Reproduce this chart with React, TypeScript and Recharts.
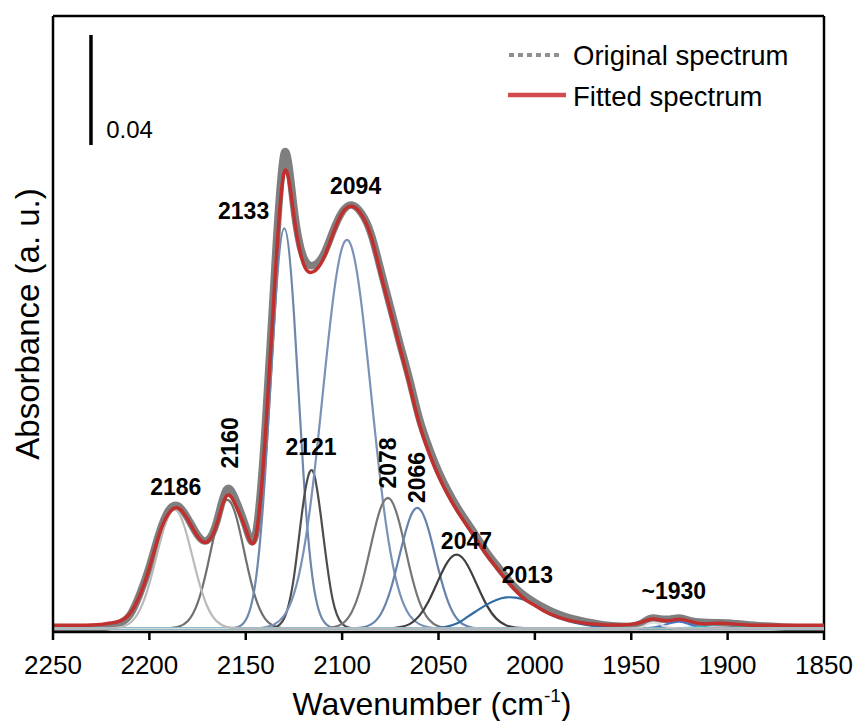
import React from 'react';
import { LineChart, Line, XAxis, YAxis, ReferenceLine, ReferenceDot } from 'recharts';

const FONT = '"Liberation Sans", Arial, Helvetica, sans-serif';

// sampling grid of the spectrum, cm-1 (2250 -> 1850, 5 cm-1 steps)
const GRID_START = 2250;
const GRID_STEP = 5;
const wavenumbers = Array.from({ length: 81 }, (_, i) => GRID_START - i * GRID_STEP);

const xTicks = [2250, 2200, 2150, 2100, 2050, 2000, 1950, 1900, 1850];

// absorbance, one value per grid point
const originalSpectrum = [
  0, 0, 0, 0, 0, 0.0003, 0.0008, 0.002, 0.005, 0.0125, // 2250-2205
  0.0225, 0.0345, 0.043, 0.0445, 0.04, 0.034, 0.032, 0.039, 0.0505, 0.0465, // 2200-2155
  0.037, 0.034, 0.072, 0.13, 0.173, 0.153, 0.135, 0.132, 0.1355, 0.144, // 2150-2105
  0.1515, 0.154, 0.151, 0.1435, 0.1305, 0.117, 0.1035, 0.0905, 0.0765, 0.066, // 2100-2055
  0.0572, 0.05, 0.0438, 0.0385, 0.0332, 0.0278, 0.0232, 0.0188, 0.0148, 0.0118, // 2050-2005
  0.0095, 0.0075, 0.0058, 0.0045, 0.0035, 0.0027, 0.002, 0.0014, 0.001, 0.0008, // 2000-1955
  0.0008, 0.0018, 0.0037, 0.0035, 0.0034, 0.0038, 0.003, 0.0024, 0.0022, 0.0021, // 1950-1905
  0.002, 0.0017, 0.0014, 0.0011, 0.0009, 0.0007, 0.0005, 0.0003, 0.0002, 0.0001, // 1900-1855
  0, // 1850
];

const fittedSpectrum = [
  0.0012, 0.0012, 0.0012, 0.0012, 0.0013, 0.0015, 0.002, 0.0028, 0.0055, 0.012, // 2250-2205
  0.022, 0.034, 0.0418, 0.0438, 0.0395, 0.0335, 0.0315, 0.038, 0.0482, 0.0445, // 2200-2155
  0.036, 0.0328, 0.068, 0.125, 0.166, 0.15, 0.1325, 0.1297, 0.134, 0.143, // 2150-2105
  0.151, 0.1535, 0.1505, 0.1425, 0.129, 0.1155, 0.102, 0.0885, 0.0745, 0.064, // 2100-2055
  0.0555, 0.0485, 0.0425, 0.0372, 0.032, 0.0268, 0.0222, 0.0178, 0.0138, 0.0105, // 2050-2005
  0.0084, 0.0063, 0.0047, 0.0035, 0.0026, 0.002, 0.0016, 0.0014, 0.0013, 0.0013, // 2000-1955
  0.0015, 0.0022, 0.0034, 0.0031, 0.0029, 0.0034, 0.0027, 0.0018, 0.0017, 0.0019, // 1950-1905
  0.0018, 0.0015, 0.0013, 0.0012, 0.0012, 0.0012, 0.0012, 0.0012, 0.0012, 0.0012, // 1900-1855
  0.0012, // 1850
];

// fitted bands: values start at the given wavenumber and go down in 5 cm-1 steps
const band2186 = [0.0001, 0.0005, 0.002, 0.0067, 0.0163, 0.0299, 0.0411, 0.0423, 0.0326, 0.0188, 0.0081, 0.0026, 0.0006, 0.0001, 0];
const band2160 = [0.0001, 0.0006, 0.0027, 0.0092, 0.0222, 0.0381, 0.0467, 0.0408, 0.0254, 0.0113, 0.0036, 0.0008, 0.0001, 0];
const band2133 = [0, 0.0003, 0.0031, 0.0166, 0.0555, 0.1144, 0.1455, 0.1144, 0.0555, 0.0166, 0.0031, 0.0003, 0];
const band2121 = [0, 0.0004, 0.0038, 0.0188, 0.0463, 0.057, 0.0351, 0.0108, 0.0017, 0.0001, 0];
const band2094 = [0, 0.0004, 0.0016, 0.0048, 0.0126, 0.028, 0.053, 0.0857, 0.118, 0.1385, 0.1385, 0.118, 0.0857, 0.053, 0.028, 0.0126, 0.0048, 0.0016, 0.0004, 0];
const band2078 = [0, 0.0004, 0.0017, 0.006, 0.0157, 0.0304, 0.0438, 0.047, 0.0376, 0.0223, 0.0099, 0.0033, 0.0008, 0.0001, 0];
const band2066 = [0, 0.0003, 0.0015, 0.0052, 0.0138, 0.0272, 0.0399, 0.0436, 0.0355, 0.0215, 0.0097, 0.0032, 0.0008, 0.0001, 0];
const band2047 = [0, 0.0001, 0.0005, 0.0016, 0.0046, 0.0101, 0.0177, 0.0245, 0.0268, 0.0231, 0.0158, 0.0085, 0.0036, 0.0012, 0.0003, 0.0001, 0];
const band2013 = [0, 0.0002, 0.0008, 0.002, 0.0042, 0.0065, 0.0087, 0.0104, 0.0113, 0.0112, 0.0103, 0.0084, 0.0062, 0.0045, 0.0032, 0.0022, 0.0015, 0.001, 0.0006, 0.0003, 0.0001, 0];
const band1938 = [0, 0.0004, 0.002, 0.0016, 0.0003, 0];
const band1926 = [0, 0.0002, 0.0009, 0.0019, 0.0025, 0.0016, 0.0006, 0.0001, 0];
const band1903 = [0, 0.0001, 0.0002, 0.0005, 0.0011, 0.0016, 0.0016, 0.001, 0.0004, 0.0001, 0];

const bands = [
  { key: 'b2160', start: 2190, values: band2160, color: '#707070' },
  { key: 'b2133', start: 2160, values: band2133, color: '#6e87ab' },
  { key: 'b2121', start: 2140, values: band2121, color: '#4d4d4d' },
  { key: 'b2094', start: 2145, values: band2094, color: '#7b92b8' },
  { key: 'b2078', start: 2110, values: band2078, color: '#767676' },
  { key: 'b2066', start: 2095, values: band2066, color: '#6783ad' },
  { key: 'b2047', start: 2080, values: band2047, color: '#3f3f3f' },
  { key: 'b2013', start: 2055, values: band2013, color: '#2f6ca3' },
  { key: 'b1926', start: 1945, values: band1926, color: '#4a78c8' },
  { key: 'b1903', start: 1930, values: band1903, color: '#33bcc8' },
  { key: 'b1938', start: 1950, values: band1938, color: '#dcdcdc' },
  { key: 'b2186', start: 2220, values: band2186, color: '#bababa' },
];

// peak annotations (text, wavenumber, absorbance of the text baseline, vertical?)
const peakLabels = ['2186', '2160', '2133', '2121', '2094', '2078', '2066', '2047', '2013', '~1930'];
const peakLabelX = [2186.3, 2153.9, 2151.1, 2116.1, 2093.0, 2071.8, 2057.0, 2035.5, 2003.9, 1927.9];
const peakLabelY = [0.0486, 0.0675, 0.1489, 0.0631, 0.158, 0.0602, 0.0549, 0.0289, 0.0166, 0.0107];
const peakLabelVertical = [false, true, false, false, false, true, true, false, false, false];

const Y_MIN = -0.00127;
const Y_MAX = 0.2227;

const chartData = wavenumbers.map((wn, i) => {
  const row: Record<string, number> = {
    wn,
    original: originalSpectrum[i],
    fitted: fittedSpectrum[i],
  };
  bands.forEach((b) => {
    const idx = Math.round((b.start - wn) / GRID_STEP);
    row[b.key] = idx >= 0 && idx < b.values.length ? b.values[idx] : 0;
  });
  return row;
});

function PeakText({ cx, cy, text, vertical }: { cx?: number; cy?: number; text: string; vertical: boolean }) {
  if (cx == null || cy == null) return null;
  return (
    <text
      x={cx}
      y={cy}
      textAnchor="middle"
      fontFamily={FONT}
      fontSize={23}
      fontWeight="bold"
      fill="#000"
      transform={vertical ? `rotate(-90 ${cx} ${cy})` : undefined}
    >
      {text}
    </text>
  );
}

export default function App() {
  return (
    <div style={{ position: 'absolute', left: 0, top: 0, width: 859, height: 721, background: '#fff' }}>
      <LineChart
        width={859}
        height={721}
        data={chartData}
        margin={{ top: 16, right: 35, left: 8, bottom: 29 }}
      >
        <XAxis
          dataKey="wn"
          type="number"
          domain={[1850, 2250]}
          reversed
          ticks={xTicks}
          allowDataOverflow
          height={60}
          tickSize={8}
          tickMargin={16}
          axisLine={{ stroke: '#000', strokeWidth: 2.5 }}
          tickLine={{ stroke: '#000', strokeWidth: 2.5 }}
          tick={{ fontSize: 26, fill: '#000', fontFamily: FONT }}
          label={{
            content: () => (
              <text x={432} y={715} textAnchor="middle" fontFamily={FONT} fontSize={32} fill="#000">
                <tspan>Wavenumber (cm</tspan>
                <tspan dy={-13} fontSize={19}>-1</tspan>
                <tspan dy={13}>)</tspan>
              </text>
            ),
          }}
        />
        <YAxis
          type="number"
          domain={[Y_MIN, Y_MAX]}
          allowDataOverflow
          width={45}
          tick={false}
          tickLine={false}
          axisLine={{ stroke: '#000', strokeWidth: 2.5 }}
          label={{
            content: () => (
              <text
                x={39}
                y={324}
                textAnchor="middle"
                fontFamily={FONT}
                fontSize={33}
                fill="#000"
                transform="rotate(-90 39 324)"
              >
                Absorbance (a. u.)
              </text>
            ),
          }}
        />
        {/* plot frame */}
        <ReferenceLine y={Y_MAX} stroke="#000" strokeWidth={2.5} />
        <ReferenceLine x={1850} stroke="#000" strokeWidth={2.5} />

        <Line
          dataKey="original"
          type="natural"
          stroke="#7f7f7f"
          strokeWidth={7.5}
          dot={false}
          activeDot={false}
          isAnimationActive={false}
        />
        {bands.map((b) => (
          <Line
            key={b.key}
            dataKey={b.key}
            type="natural"
            stroke={b.color}
            strokeWidth={2.2}
            dot={false}
            activeDot={false}
            isAnimationActive={false}
          />
        ))}
        <Line
          dataKey="fitted"
          type="natural"
          stroke="#c0302f"
          strokeWidth={3.5}
          dot={false}
          activeDot={false}
          isAnimationActive={false}
        />

        {/* 0.04 scale bar */}
        <ReferenceLine
          segment={[
            { x: 2230.3, y: 0.1758 },
            { x: 2230.3, y: 0.2158 },
          ]}
          stroke="#000"
          strokeWidth={3.5}
        />
        <ReferenceDot
          x={2222.4}
          y={0.1784}
          r={0}
          shape={(p: any) => (
            <text x={p.cx} y={p.cy} fontFamily={FONT} fontSize={24} fill="#000">
              0.04
            </text>
          )}
        />

        {peakLabels.map((t, i) => (
          <ReferenceDot
            key={t}
            x={peakLabelX[i]}
            y={peakLabelY[i]}
            r={0}
            shape={(p: any) => <PeakText cx={p.cx} cy={p.cy} text={t} vertical={peakLabelVertical[i]} />}
          />
        ))}
      </LineChart>

      {/* legend */}
      <svg
        width={859}
        height={130}
        style={{ position: 'absolute', left: 0, top: 0, pointerEvents: 'none' }}
      >
        <line x1={509} y1={55} x2={563} y2={55} stroke="#8f8f8f" strokeWidth={4} strokeDasharray="5 4" />
        <text x={573} y={65} fontFamily={FONT} fontSize={27.5} fill="#000">
          Original spectrum
        </text>
        <line x1={508} y1={95} x2={566} y2={95} stroke="#d14b4e" strokeWidth={4.5} />
        <text x={573} y={106} fontFamily={FONT} fontSize={27.5} fill="#000">
          Fitted spectrum
        </text>
      </svg>
    </div>
  );
}
